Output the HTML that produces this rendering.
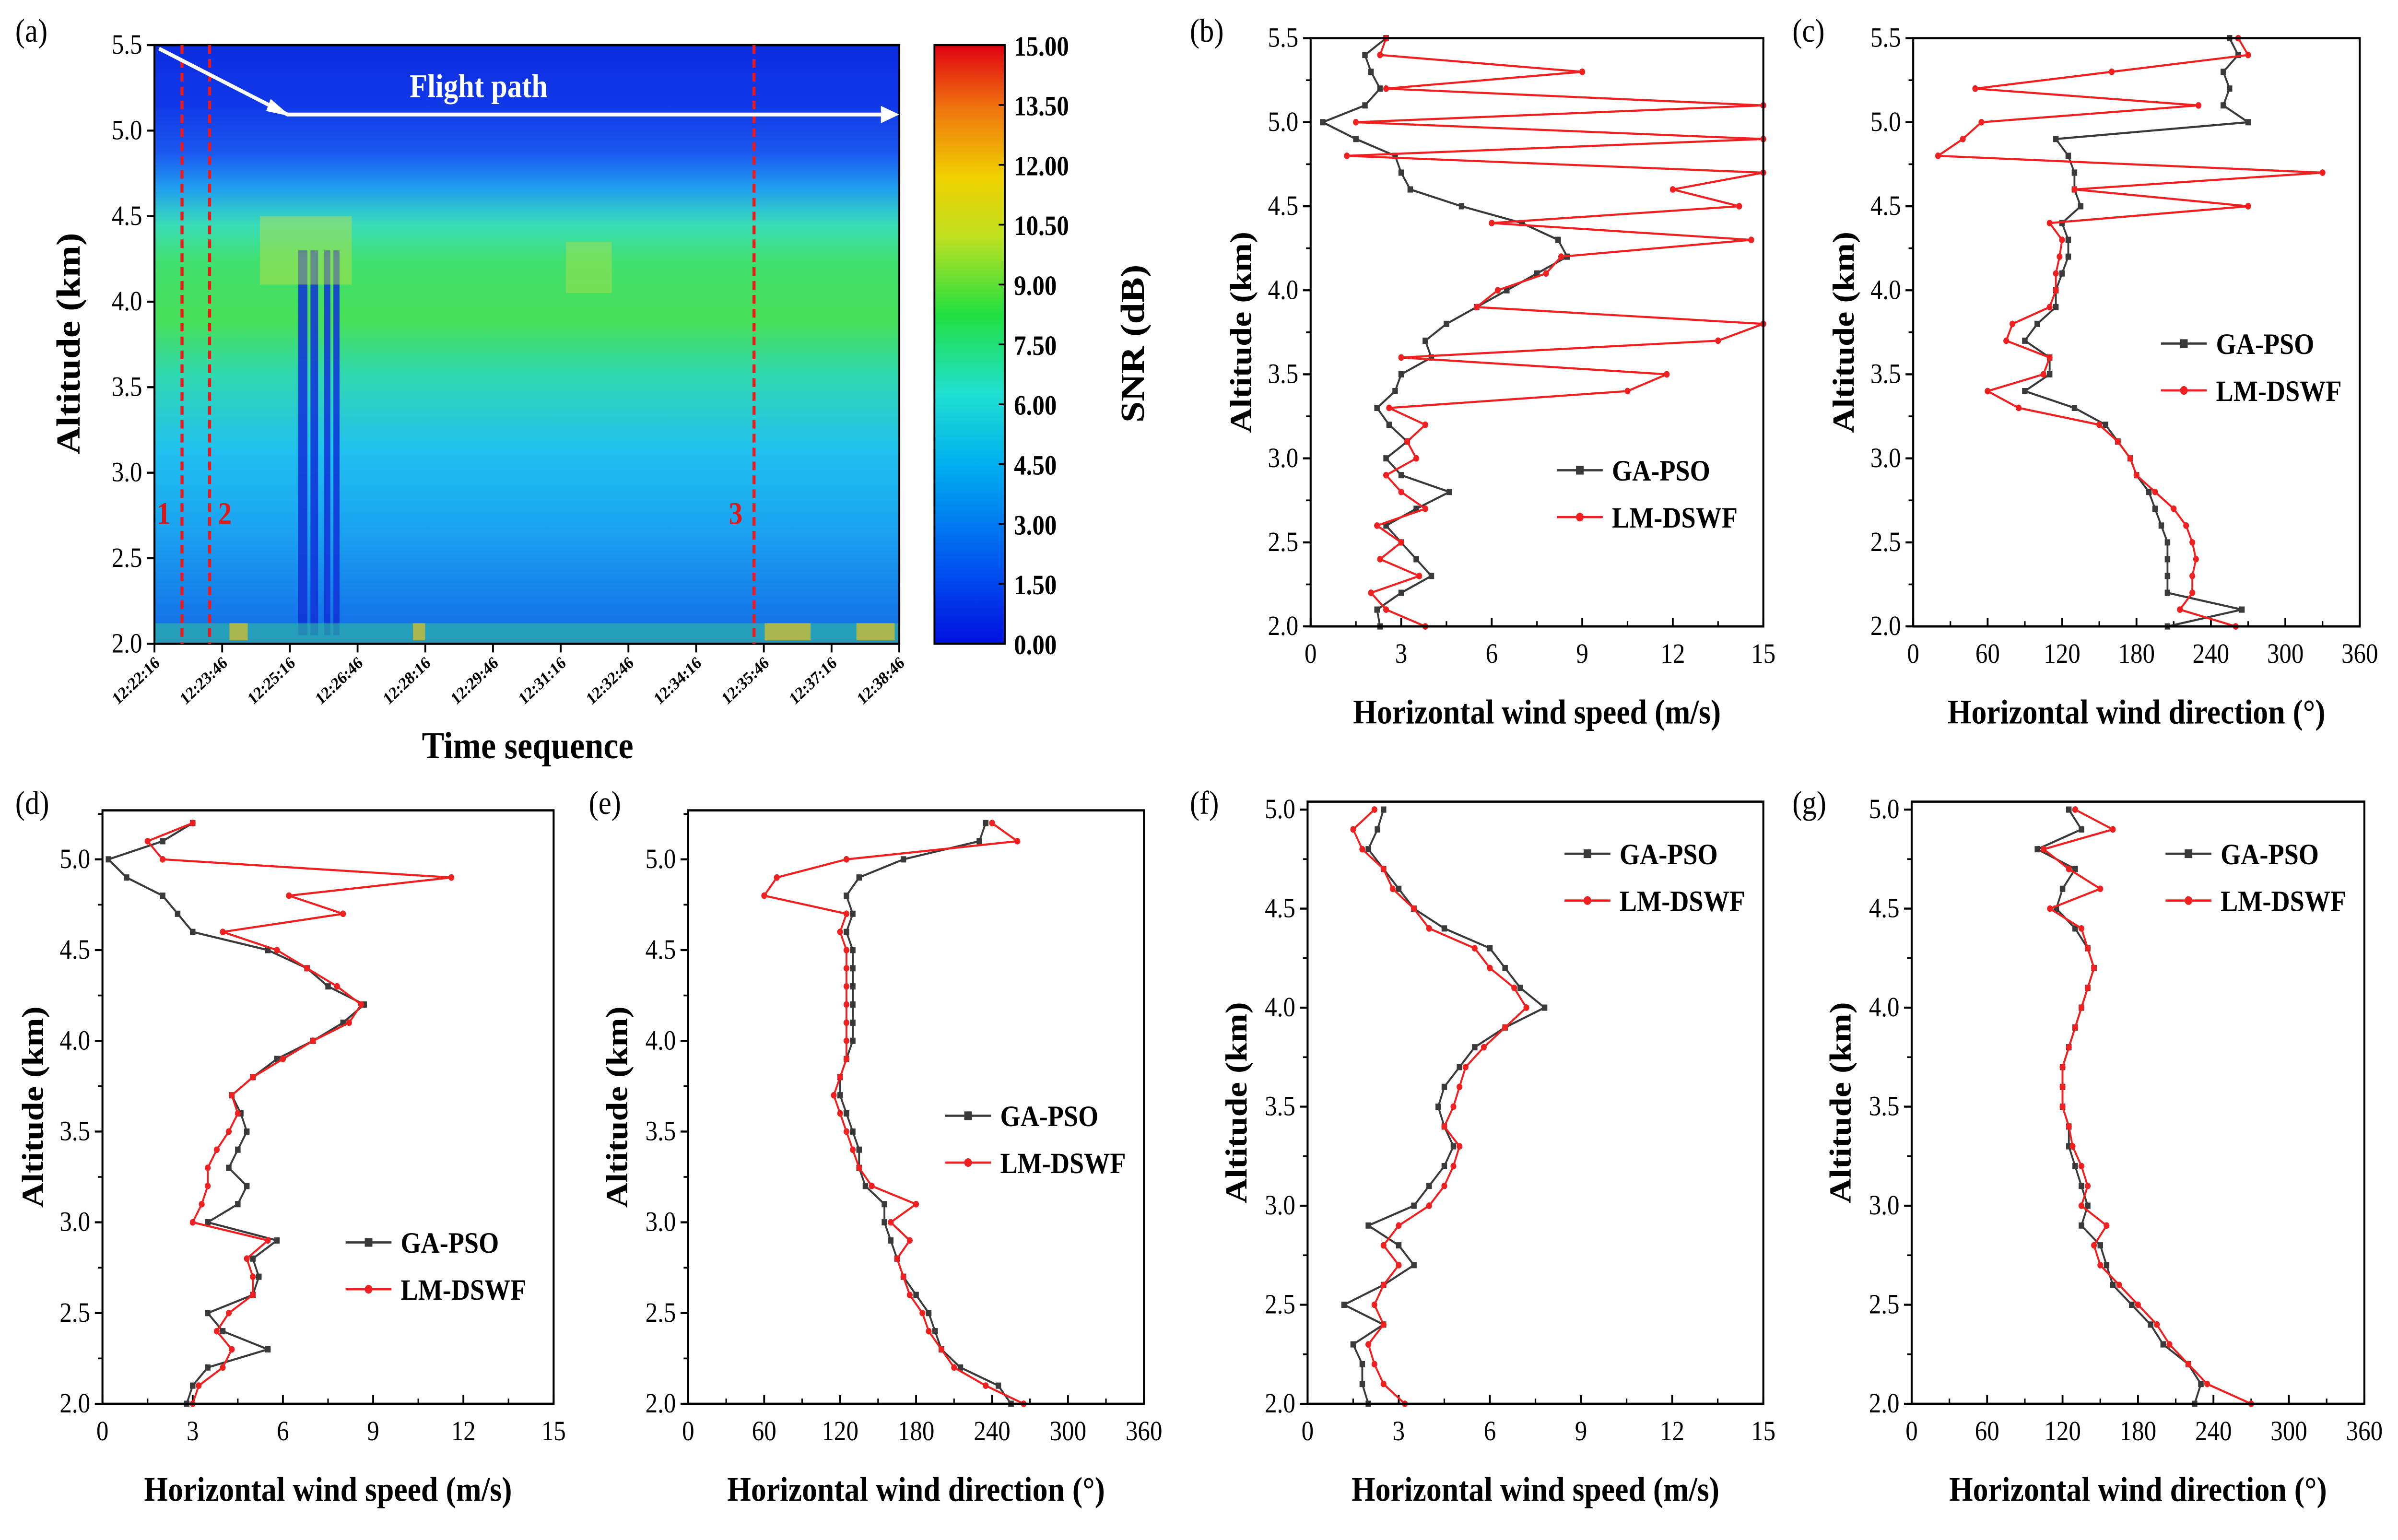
<!DOCTYPE html>
<html><head><meta charset="utf-8">
<style>
html,body{margin:0;padding:0;background:#fff;overflow:hidden;}
svg{display:block;width:100vw;height:100vh;}
text{font-family:"Liberation Serif",serif;}
</style></head>
<body>
<svg id="fig" xmlns="http://www.w3.org/2000/svg" viewBox="0 0 1568 887.5" preserveAspectRatio="none">
<defs>
<linearGradient id="jet" x1="0" y1="1" x2="0" y2="0">
<stop offset="0" stop-color="#0010e0"/>
<stop offset="0.12" stop-color="#0050f0"/>
<stop offset="0.3" stop-color="#00b0f0"/>
<stop offset="0.42" stop-color="#20e0d0"/>
<stop offset="0.55" stop-color="#20e040"/>
<stop offset="0.68" stop-color="#c0e020"/>
<stop offset="0.78" stop-color="#f0d000"/>
<stop offset="0.9" stop-color="#f07010"/>
<stop offset="1" stop-color="#e00010"/>
</linearGradient>
<linearGradient id="heat" x1="0" y1="0" x2="0" y2="1">
<stop offset="0" stop-color="#0c2ce0"/>
<stop offset="0.1" stop-color="#1038e8"/>
<stop offset="0.18" stop-color="#1a58f0"/>
<stop offset="0.24" stop-color="#20a0f0"/>
<stop offset="0.3" stop-color="#38dcb8"/>
<stop offset="0.36" stop-color="#40e070"/>
<stop offset="0.46" stop-color="#48e058"/>
<stop offset="0.55" stop-color="#30d8b0"/>
<stop offset="0.68" stop-color="#20c0f0"/>
<stop offset="0.82" stop-color="#1aa0f0"/>
<stop offset="0.95" stop-color="#1478ea"/>
<stop offset="1" stop-color="#1468e0"/>
</linearGradient>
</defs>
<g id="root"></g>
</svg>
<script>
// ---------- DATA ----------
const timeLabels = ["12:22:16","12:23:46","12:25:16","12:26:46","12:28:16","12:29:46","12:31:16","12:32:46","12:34:16","12:35:46","12:37:16","12:38:46"];
const snrTicks = ["0.00","1.50","3.00","4.50","6.00","7.50","9.00","10.50","12.00","13.50","15.00"];
const markerLines = [0.037, 0.074, 0.805];
const markerNames = ["1","2","3"];

const altB = [2.0,2.1,2.2,2.3,2.4,2.5,2.6,2.7,2.8,2.9,3.0,3.1,3.2,3.3,3.4,3.5,3.6,3.7,3.8,3.9,4.0,4.1,4.2,4.3,4.4,4.5,4.6,4.7,4.8,4.9,5.0,5.1,5.2,5.3,5.4,5.5];
const bGA = [2.3,2.2,3.0,4.0,3.5,3.0,2.5,3.5,4.6,3.0,2.5,3.2,2.6,2.2,2.8,3.0,4.0,3.8,4.5,5.5,6.5,7.5,8.5,8.2,7.0,5.0,3.3,3.0,2.8,1.5,0.4,1.8,2.3,2.0,1.8,2.5];
const bLM = [3.8,2.5,2.0,3.6,2.3,3.0,2.2,3.8,3.0,2.5,3.5,3.2,3.8,2.6,10.5,11.8,3.0,13.5,15,5.5,6.2,7.8,8.3,14.6,6.0,14.2,12.0,15,1.2,15,1.5,15,2.5,9.0,2.3,2.5];
const cGA = [205,265,205,205,205,205,200,195,190,180,175,165,155,130,90,110,110,90,100,115,115,120,125,125,120,135,130,130,125,115,270,250,255,250,262,255];
const cLM = [260,215,225,225,228,225,220,210,195,180,175,165,150,85,60,105,110,75,80,110,115,115,118,120,110,270,130,330,20,40,55,230,50,160,270,262];

const altD = [2.0,2.1,2.2,2.3,2.4,2.5,2.6,2.7,2.8,2.9,3.0,3.1,3.2,3.3,3.4,3.5,3.6,3.7,3.8,3.9,4.0,4.1,4.2,4.3,4.4,4.5,4.6,4.7,4.8,4.9,5.0,5.1,5.2];
const dGA = [2.8,3.0,3.5,5.5,4.0,3.5,5.0,5.2,5.0,5.8,3.5,4.5,4.8,4.2,4.5,4.8,4.6,4.3,5.0,5.8,7.0,8.0,8.7,7.5,6.8,5.5,3.0,2.5,2.0,0.8,0.2,2.0,3.0];
const dLM = [3.0,3.2,4.0,4.3,3.8,4.2,5.0,5.0,4.8,5.5,3.0,3.3,3.5,3.5,3.8,4.2,4.5,4.3,5.0,6.0,7.0,8.2,8.6,7.8,6.8,5.8,4.0,8.0,6.2,11.6,2.0,1.5,3.0];
const eGA = [255,245,215,200,195,190,180,170,165,160,155,155,140,135,135,130,125,120,120,125,130,130,130,130,130,130,125,130,125,135,170,230,235];
const eLM = [265,235,210,200,190,185,175,170,165,175,160,180,145,135,130,125,120,115,120,125,125,125,125,125,125,125,120,125,60,70,125,260,240];

const altF = [2.0,2.1,2.2,2.3,2.4,2.5,2.6,2.7,2.8,2.9,3.0,3.1,3.2,3.3,3.4,3.5,3.6,3.7,3.8,3.9,4.0,4.1,4.2,4.3,4.4,4.5,4.6,4.7,4.8,4.9,5.0];
const fGA = [2.0,1.8,1.8,1.5,2.5,1.2,2.5,3.5,3.0,2.0,3.5,4.0,4.5,4.8,4.5,4.3,4.5,5.0,5.5,6.5,7.8,7.0,6.5,6.0,4.5,3.5,3.0,2.5,2.0,2.3,2.5];
const fLM = [3.2,2.5,2.2,2.0,2.5,2.2,2.5,3.0,2.5,3.0,4.0,4.5,4.8,5.0,4.5,4.8,5.0,5.2,5.8,6.5,7.2,6.8,6.0,5.5,4.0,3.5,2.8,2.5,1.8,1.5,2.2];
const gGA = [225,230,220,200,190,175,160,155,150,135,140,135,130,125,125,120,120,120,125,130,135,140,145,140,130,115,120,130,100,135,125];
const gLM = [270,235,220,205,195,180,165,150,145,155,135,140,135,128,125,120,120,120,125,130,135,140,145,140,135,110,150,125,105,160,130];

const speedTicks = [0,3,6,9,12,15];
const dirTicks = [0,60,120,180,240,300,360];
const altTicksB = [2.0,2.5,3.0,3.5,4.0,4.5,5.0,5.5];
const altTicksD = [2.0,2.5,3.0,3.5,4.0,4.5,5.0];

// ---------- DRAW ----------
const NS = "http://www.w3.org/2000/svg";
const root = document.getElementById("root");
function mk(tag, attrs, parent, txt){
  const e = document.createElementNS(NS, tag);
  for (const k in attrs) e.setAttribute(k, attrs[k]);
  if (txt !== undefined) e.textContent = txt;
  (parent || root).appendChild(e);
  return e;
}

function panel(p){
  const g = mk("g", {});
  
  
  const sx = v => p.x0 + (v - p.xmin) / (p.xmax - p.xmin) * (p.x1 - p.x0);
  const sy = v => p.y1 - (v - p.ymin) / (p.ymax - p.ymin) * (p.y1 - p.y0);
  p.xt.forEach((v,i) => {
    const x = sx(v);
    mk("line", {x1:x, x2:x, y1:p.y1, y2:p.y1-5, stroke:"#000","stroke-width":1.2}, g);
    if (i < p.xt.length-1) {
      const xm = sx((v + p.xt[i+1]) / 2);
      mk("line", {x1:xm, x2:xm, y1:p.y1, y2:p.y1-3, stroke:"#000","stroke-width":1}, g);
    }
    const t = mk("text", {x:x, y:p.y1+21, "font-size":16, "text-anchor":"middle"}, g, String(v));
    
    
  });
  p.yt.forEach(v => {
    const y = sy(v);
    mk("line", {x1:p.x0-5, x2:p.x0, y1:y, y2:y, stroke:"#000","stroke-width":1.2}, g);
    const ym = sy(v + 0.25);
    if (ym >= p.y0) mk("line", {x1:p.x0-3, x2:p.x0, y1:ym, y2:ym, stroke:"#000","stroke-width":1}, g);
    const t = mk("text", {x:p.x0-8, y:y+5, "font-size":16, "text-anchor":"end"}, g, v.toFixed(1));
    
    
  });
  [[p.ga,"#3a3a3a","ga-pso-line",true],[p.lm,"#f02020","lm-dswf-line",false]].forEach(s => {
    const pts = s[0].map((v,i) => sx(v).toFixed(2)+","+sy(p.alt[i]).toFixed(2)).join(" ");
    const pl = mk("polyline", {points:pts, fill:"none", stroke:s[1], "stroke-width":1.2}, g);
    
    
    s[0].forEach((v,i) => {
      let c;
      if (s[3]) c = mk("rect", {x:sx(v)-1.8, y:sy(p.alt[i])-1.8, width:3.6, height:3.6, fill:s[1]}, g);
      else c = mk("circle", {cx:sx(v), cy:sy(p.alt[i]), r:1.9, fill:s[1]}, g);
      
      
    });
  });
  const fr = mk("rect", {x:p.x0, y:p.y0, width:p.x1-p.x0, height:p.y1-p.y0, fill:"none", stroke:"#000", "stroke-width":1.3}, g);
  
  
  const xt = mk("text", {x:(p.x0+p.x1)/2, y:p.y1+56, "font-size":20, "font-weight":"bold", "text-anchor":"middle"}, g, p.xtitle);
  
  
  const yc = (p.y0+p.y1)/2;
  const yt = mk("text", {x:p.ytx, y:yc, "font-size":20, "font-weight":"bold", "text-anchor":"middle", transform:"rotate(-90 "+p.ytx+" "+yc+")"}, g, "Altitude (km)");
  
  
  const lab = mk("text", {x:p.lx, y:p.ly, "font-size":19}, g, p.label);
  
  
  [["GA-PSO","#3a3a3a",true],["LM-DSWF","#f02020",false]].forEach((l,i) => {
    const ly = p.legY + i*27;
    const lg = mk("g", {}, g);
    
    
    mk("line", {x1:p.legX, x2:p.legX+30, y1:ly, y2:ly, stroke:l[1], "stroke-width":1.3}, lg);
    if (l[2]) mk("rect", {x:p.legX+12.5, y:ly-2.5, width:5, height:5, fill:l[1]}, lg);
    else mk("circle", {cx:p.legX+15, cy:ly, r:2.5, fill:l[1]}, lg);
    mk("text", {x:p.legX+36, y:ly+6, "font-size":17, "font-weight":"bold"}, lg, l[0]);
  });
}

const WS = "Horizontal wind speed (m/s)", WD = "Horizontal wind direction (\u00B0)";
panel({name:"panel-b", x0:857,x1:1153,y0:22,y1:361, xmin:0,xmax:15, ymin:2,ymax:5.5, xt:speedTicks, yt:altTicksB, alt:altB, ga:bGA, lm:bLM, xtitle:WS, ytx:818, lx:778, ly:24, label:"(b)", legX:1018, legY:271});
panel({name:"panel-c", x0:1251,x1:1543,y0:22,y1:361, xmin:0,xmax:360, ymin:2,ymax:5.5, xt:dirTicks, yt:altTicksB, alt:altB, ga:cGA, lm:cLM, xtitle:WD, ytx:1212, lx:1172, ly:24, label:"(c)", legX:1413, legY:198});
panel({name:"panel-d", x0:67,x1:362,y0:467,y1:809, xmin:0,xmax:15, ymin:2,ymax:5.27, xt:speedTicks, yt:altTicksD, alt:altD, ga:dGA, lm:dLM, xtitle:WS, ytx:28, lx:10, ly:469, label:"(d)", legX:226, legY:716});
panel({name:"panel-e", x0:450,x1:748,y0:467,y1:809, xmin:0,xmax:360, ymin:2,ymax:5.27, xt:dirTicks, yt:altTicksD, alt:altD, ga:eGA, lm:eLM, xtitle:WD, ytx:410, lx:385, ly:469, label:"(e)", legX:618, legY:643});
panel({name:"panel-f", x0:855,x1:1153,y0:462,y1:809, xmin:0,xmax:15, ymin:2,ymax:5.04, xt:speedTicks, yt:altTicksD, alt:altF, ga:fGA, lm:fLM, xtitle:WS, ytx:815, lx:778, ly:469, label:"(f)", legX:1023, legY:492});
panel({name:"panel-g", x0:1250,x1:1546,y0:462,y1:809, xmin:0,xmax:360, ymin:2,ymax:5.04, xt:dirTicks, yt:altTicksD, alt:altF, ga:gGA, lm:gLM, xtitle:WD, ytx:1210, lx:1172, ly:469, label:"(g)", legX:1416, legY:492});

// ---------- PANEL A ----------
(function(){
  const x0=101,x1=588,y0=26,y1=371;
  const ga = mk("g", {});
  
  
  const ay = v => y1 - (v-2)/(5.5-2)*(y1-y0);
  const hm = mk("rect", {x:x0,y:y0,width:x1-x0,height:y1-y0,fill:"url(#heat)"}, ga);
  
  
  [[195,6],[203,5],[212,4],[218,4]].forEach(s => {
    mk("rect", {x:s[0], y:ay(4.3), width:s[1], height:ay(2.05)-ay(4.3), fill:"#1030d8", opacity:0.85}, ga);
  });
  mk("rect", {x:170,y:ay(4.5),width:60,height:ay(4.1)-ay(4.5),fill:"#c0e040",opacity:0.45}, ga);
  mk("rect", {x:370,y:ay(4.35),width:30,height:ay(4.05)-ay(4.35),fill:"#c0e040",opacity:0.4}, ga);
  mk("rect", {x:x0,y:ay(2.12),width:x1-x0,height:ay(2.0)-ay(2.12),fill:"#30c0a0",opacity:0.6}, ga);
  [[150,12],[270,8],[500,30],[560,25]].forEach(s => {
    mk("rect", {x:s[0], y:ay(2.12), width:s[1], height:ay(2.02)-ay(2.12), fill:"#e0c020", opacity:0.7}, ga);
  });
  mk("rect", {x:x0,y:y0,width:x1-x0,height:y1-y0,fill:"none",stroke:"#000","stroke-width":1.3}, ga);
  markerLines.forEach((f,i) => {
    const x = x0 + f*(x1-x0);
    const l = mk("line", {x1:x,x2:x,y1:y0,y2:y1,stroke:"#f01818","stroke-width":2,"stroke-dasharray":"5,3"}, ga);
    
    
    mk("text", {x:x-12+(i==1?22:0), y:302, "font-size":18, "font-weight":"bold", fill:"#e01818", "text-anchor":"middle"}, ga, markerNames[i]);
  });
  const fp = mk("g", {}, ga);
  
  
  mk("polyline", {points:"104,28 188,66 582,66", fill:"none", stroke:"#fff","stroke-width":2.2}, fp);
  mk("polygon", {points:"588,66 576,61 576,71", fill:"#fff"}, fp);
  mk("polygon", {points:"190,67 177,57 174,64", fill:"#fff"}, fp);
  mk("text", {x:313, y:56, "font-size":19, "font-weight":"bold", fill:"#fff", "text-anchor":"middle"}, fp, "Flight path");
  [2.0,2.5,3.0,3.5,4.0,4.5,5.0,5.5].forEach(v => {
    const y = ay(v);
    mk("line", {x1:x0-5,x2:x0,y1:y,y2:y,stroke:"#000","stroke-width":1.2}, ga);
    const t = mk("text", {x:x0-8,y:y+5,"font-size":16,"text-anchor":"end"}, ga, v.toFixed(1));
    
    
  });
  timeLabels.forEach((s,i) => {
    const x = x0 + i/(timeLabels.length-1)*(x1-x0);
    mk("line", {x1:x,x2:x,y1:y1,y2:y1+5,stroke:"#000","stroke-width":1.2}, ga);
    const t = mk("text", {x:x+4,y:y1+12,"font-size":10,"font-weight":"bold","text-anchor":"end",transform:"rotate(-40 "+(x+4)+" "+(y1+12)+")"}, ga, s);
    
    
  });
  const xt = mk("text", {x:345,y:437,"font-size":22,"font-weight":"bold","text-anchor":"middle"}, ga, "Time sequence");
  
  
  const yt = mk("text", {x:52,y:198,"font-size":22,"font-weight":"bold","text-anchor":"middle",transform:"rotate(-90 52 198)"}, ga, "Altitude (km)");
  
  
  mk("text", {x:10,y:24,"font-size":19}, ga, "(a)");
  const cx0=611,cx1=657;
  const cb = mk("rect", {x:cx0,y:y0,width:cx1-cx0,height:y1-y0,fill:"url(#jet)",stroke:"#000","stroke-width":1.2}, ga);
  
  
  snrTicks.forEach((s,i) => {
    const y = y1 - i/(snrTicks.length-1)*(y1-y0);
    mk("line", {x1:cx1-4,x2:cx1,y1:y,y2:y,stroke:"#000","stroke-width":1}, ga);
    const t = mk("text", {x:cx1+6,y:y+6,"font-size":16,"font-weight":"bold"}, ga, s);
    
    
  });
  const ct = mk("text", {x:748,y:198,"font-size":22,"font-weight":"bold","text-anchor":"middle",transform:"rotate(-90 748 198)"}, ga, "SNR (dB)");
  
  
})();
</script>
</body></html>
